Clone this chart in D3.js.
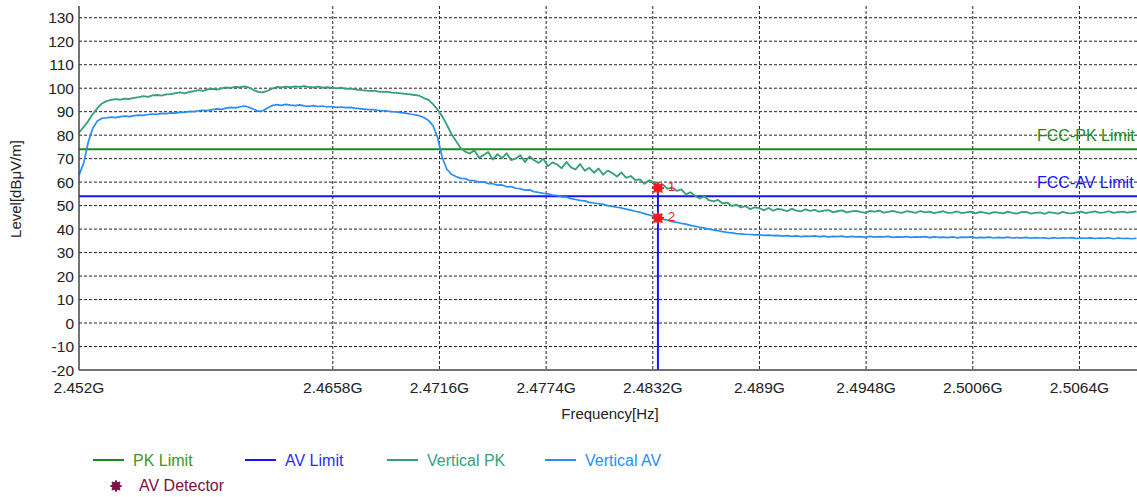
<!DOCTYPE html>
<html>
<head>
<meta charset="utf-8">
<script src="https://cdn.jsdelivr.net/npm/d3@7"></script>
<style>
  body { margin: 0; background: #fff; }
  text { font-family: "Liberation Sans", Arial, sans-serif; }
</style>
</head>
<body>
<svg></svg>
<script>
const PK_LIMIT_COLOR = '#1b8a1b';
const AV_LIMIT_COLOR = '#1414ff';
const PK_COLOR = '#35a072';
const AV_COLOR = '#2a8cf5';
const MARK_COLOR = '#ee1c1c';
const DET_COLOR = '#7d1044';

// axis ticks (GHz)
const xTicks = [2.452, 2.4658, 2.4716, 2.4774, 2.4832, 2.489, 2.4948, 2.5006, 2.5064];
const xTickLabels = ['2.452G', '2.4658G', '2.4716G', '2.4774G', '2.4832G', '2.489G', '2.4948G', '2.5006G', '2.5064G'];
const yTicks = [-20, -10, 0, 10, 20, 30, 40, 50, 60, 70, 80, 90, 100, 110, 120, 130];

// limits (dBuV/m)
const limits = [
  { name: 'FCC-PK Limit', value: 74, color: PK_LIMIT_COLOR },
  { name: 'FCC-AV Limit', value: 54, color: AV_LIMIT_COLOR }
];

// sweep: start 2.452 GHz, one sample every 0.25 MHz
const sweepStart = 2.452;
const sweepStep = 0.00025;

// Vertical PK trace
const vertPK = [
  81, 83.5, 86, 89, 91.5, 93.5, 94.5, 95, 95.3, 95.1, 95.6, 95.4, 95.9, 96.2, 96.6, 96.3, 96.9, 97.1, 96.8, 97.4,
  97.5, 97.9, 98.2, 97.8, 98.4, 98.7, 99.2, 98.9, 99.5, 99.7, 99.4, 99.9, 100.3, 100.1, 100.6, 100.4, 100.8, 100.2, 99.2, 98.4,
  98.2, 98.9, 99.8, 100.5, 100.3, 100.7, 100.4, 100.8, 100.6, 100.9, 100.5, 100.3, 100.7, 100.2, 100.4, 100.1, 99.9, 100.2, 99.7, 99.8,
  99.5, 99.3, 99.1, 98.9, 99, 98.6, 98.4, 98.5, 98.1, 98.0, 97.8, 97.6, 97.4, 97.1, 96.8, 95.8, 95.0, 93.2, 90.8, 88.0,
  84.5, 80.5, 77.5, 74.5, 73.0, 72.2, 73.6, 70.4, 71.5, 72.8, 69.6, 71.9, 70.2, 72.3, 69.4, 70.1, 71.4, 68.6, 70.9, 69.3,
  68.2, 69.9, 66.8, 68.4, 67.5, 65.9, 68.6, 66.3, 65.4, 67.7, 64.8, 66.1, 64.0, 65.8, 63.2, 64.9, 63.9, 62.4, 64.1, 61.8,
  62.6, 60.9, 61.2, 59.3, 60.8, 59.9, 58.2, 58.9, 57.1, 57.8, 56.3, 56.9, 54.8, 55.7, 54.1, 53.0, 54.0, 52.3, 51.8, 52.4,
  50.9, 51.3, 49.8, 50.4, 49.2, 49.8, 48.5, 49.3, 48.9, 48.0, 49.0, 47.8, 48.6, 48.3, 47.6, 48.7, 47.9, 47.5, 48.4, 47.8,
  48.2, 47.4, 47.9, 48.1, 47.2, 47.6, 48.0, 47.1, 47.5, 47.8, 47.3, 46.9, 47.7, 47.4, 47.9, 47.0, 47.3, 47.8, 47.2, 46.9,
  47.6, 47.3, 46.9, 47.7, 47.1, 47.4, 46.8, 47.2, 47.6, 46.9, 47.0, 47.5, 46.8, 47.1, 47.4, 46.7, 47.3, 47.0, 46.6, 47.2,
  47.0, 46.7, 47.4, 46.9, 46.6, 47.2, 47.3, 46.6, 46.9, 47.1, 46.5, 47.2, 46.9, 46.6, 47.3, 46.8, 46.7, 47.1, 47.4, 46.8,
  47.2, 47.5, 46.9, 47.1, 47.6, 46.9, 47.2, 47.4, 47.0, 47.3, 47.5
];

// Vertical AV trace
const vertAV = [
  63, 68, 77, 83, 86, 87.2, 87.4, 87.7, 87.5, 87.9, 88.1, 87.9, 88.3, 88.5, 88.4, 88.8, 89.0, 88.9, 89.3, 89.2,
  89.5, 89.4, 89.8, 89.7, 90.1, 90.0, 90.4, 90.6, 90.5, 90.9, 91.2, 91.0, 91.5, 91.8, 91.6, 92.1, 92.4, 91.9, 91.0, 90.2,
  90.4, 91.6, 92.6, 93.0, 92.7, 93.1, 92.8, 92.6, 92.9, 92.5, 92.3, 92.6, 92.2, 92.4, 92.0, 92.2, 91.8, 92.0, 91.7, 91.8,
  91.5, 91.3, 91.1, 90.9, 90.9, 90.6, 90.4, 90.3, 90.0, 89.9, 89.6, 89.4, 89.0, 88.7, 88.3, 87.5, 86.3, 84.0, 79.0, 70.5,
  65.5, 63.4, 62.4, 61.6, 61.5, 60.7, 60.6, 60.0, 60.1, 59.4, 59.3, 58.7, 58.8, 58.0, 58.1, 57.4, 57.2, 56.6, 56.7, 55.9,
  55.6, 55.2, 55.0, 54.5, 54.3, 53.7, 53.6, 53.0, 52.6, 52.2, 52.0, 51.4, 51.1, 50.8, 50.5, 50.0, 49.7, 49.3, 49.0, 48.5,
  48.1, 47.6, 47.2, 46.6, 46.0, 45.5, 44.7, 44.2, 43.8, 43.2, 42.9, 42.4, 42.1, 41.6, 41.2, 40.8, 40.4, 40.0, 39.6, 39.3,
  38.9, 38.6, 38.4, 38.1, 38.0, 37.8, 37.7, 37.5, 37.6, 37.3, 37.4, 37.2, 37.3, 37.0, 37.2, 36.9, 37.1, 36.8, 37.0, 36.9,
  37.1, 36.8, 37.0, 36.7, 36.9, 36.8, 37.0, 36.6, 36.9, 36.7, 36.8, 36.5, 36.9, 36.6, 36.8, 36.7, 36.9, 36.5, 36.7, 36.6,
  36.8, 36.5, 36.7, 36.6, 36.8, 36.4, 36.7, 36.5, 36.6, 36.4, 36.7, 36.3, 36.6, 36.5, 36.7, 36.3, 36.5, 36.4, 36.6, 36.2,
  36.5, 36.3, 36.6, 36.2, 36.4, 36.3, 36.5, 36.1, 36.4, 36.2, 36.3, 36.0, 36.4, 36.1, 36.3, 36.2, 36.4, 36.0, 36.2, 36.1,
  36.3, 36.0, 36.2, 36.1, 36.3, 35.9, 36.2, 36.0, 36.1, 35.9, 36.1
];

// markers
const markers = [
  { id: '1', freq: 2.48348, level: 57.5 },
  { id: '2', freq: 2.48348, level: 44.7 }
];

const legendItems = [
  { name: 'PK Limit', color: PK_LIMIT_COLOR, text: '#3f9324' },
  { name: 'AV Limit', color: AV_LIMIT_COLOR, text: '#2a2aff' },
  { name: 'Vertical PK', color: PK_COLOR, text: '#3aa07a' },
  { name: 'Vertical AV', color: AV_COLOR, text: '#2d8cff' }
];

const svgWidth = 1137;
const svgHeight = 497;
const plotLeft = 79, plotRight = 1137, plotTop = 6, plotBottom = 370;

const svg = d3.select("svg")
  .attr("width", svgWidth)
  .attr("height", svgHeight);

const x = d3.scaleLinear()
  .domain([2.452, 2.50953])
  .range([plotLeft, plotRight]);

const y = d3.scaleLinear()
  .domain([-20, 135])
  .range([plotBottom, plotTop]);

// spiky burst used for the marker points
const burst = {
  draw(context, size) {
    const r = Math.sqrt(size) / 2, r2 = r * 0.62, n = 8;
    for (let i = 0; i < n * 2; i++) {
      const a = Math.PI * i / n;
      const rr = i % 2 ? r2 : r;
      if (i === 0) context.moveTo(rr * Math.sin(a), -rr * Math.cos(a));
      else context.lineTo(rr * Math.sin(a), -rr * Math.cos(a));
    }
    context.closePath();
  }
};

// grid
svg.selectAll(".hgrid")
  .data(yTicks.filter(d => d > -20))
  .enter().append("line")
  .attr("class", "hgrid")
  .attr("x1", plotLeft).attr("x2", plotRight)
  .attr("y1", d => y(d)).attr("y2", d => y(d))
  .attr("stroke", "#222")
  .attr("stroke-width", 1)
  .attr("stroke-dasharray", "3,2");

svg.selectAll(".vgrid")
  .data(xTicks.slice(1))
  .enter().append("line")
  .attr("class", "vgrid")
  .attr("x1", d => x(d)).attr("x2", d => x(d))
  .attr("y1", plotTop).attr("y2", plotBottom)
  .attr("stroke", "#222")
  .attr("stroke-width", 1)
  .attr("stroke-dasharray", "3,2");

// y tick labels
svg.selectAll(".ylabel")
  .data(yTicks)
  .enter().append("text")
  .attr("class", "ylabel")
  .attr("x", plotLeft - 5)
  .attr("y", d => y(d) + 5.5)
  .attr("text-anchor", "end")
  .attr("font-size", 15.5)
  .attr("fill", "#222")
  .text(d => d);

// x tick labels
svg.selectAll(".xlabel")
  .data(xTicks)
  .enter().append("text")
  .attr("class", "xlabel")
  .attr("x", d => x(d))
  .attr("y", 393)
  .attr("text-anchor", "middle")
  .attr("font-size", 15.5)
  .attr("fill", "#222")
  .text((d, i) => xTickLabels[i]);

// axis titles
svg.append("text")
  .attr("x", 610).attr("y", 419)
  .attr("text-anchor", "middle")
  .attr("font-size", 15)
  .attr("fill", "#222")
  .text("Frequency[Hz]");

svg.append("text")
  .attr("transform", "translate(21,189) rotate(-90)")
  .attr("text-anchor", "middle")
  .attr("font-size", 15)
  .attr("fill", "#222")
  .text("Level[dBμV/m]");

// limit lines + labels
svg.selectAll(".limit")
  .data(limits)
  .enter().append("line")
  .attr("class", "limit")
  .attr("x1", plotLeft).attr("x2", plotRight)
  .attr("y1", d => y(d.value)).attr("y2", d => y(d.value))
  .attr("stroke", d => d.color)
  .attr("stroke-width", 2);

svg.selectAll(".limit-label")
  .data(limits)
  .enter().append("text")
  .attr("class", "limit-label")
  .attr("x", 1037)
  .attr("y", d => y(d.value) - 8)
  .attr("font-size", 16)
  .attr("fill", d => d.color)
  .text(d => d.name);

// traces
const line = d3.line()
  .x((d, i) => x(sweepStart + i * sweepStep))
  .y(d => y(d));

svg.append("path")
  .datum(vertPK)
  .attr("fill", "none")
  .attr("stroke", PK_COLOR)
  .attr("stroke-width", 1.8)
  .attr("stroke-linejoin", "round")
  .attr("d", line);

svg.append("path")
  .datum(vertAV)
  .attr("fill", "none")
  .attr("stroke", AV_COLOR)
  .attr("stroke-width", 1.7)
  .attr("stroke-linejoin", "round")
  .attr("d", line);

// marker line down from marker 1
svg.append("line")
  .attr("x1", x(markers[0].freq)).attr("x2", x(markers[0].freq))
  .attr("y1", y(markers[0].level)).attr("y2", y(-20))
  .attr("stroke", AV_LIMIT_COLOR)
  .attr("stroke-width", 2);

svg.selectAll(".marker")
  .data(markers)
  .enter().append("path")
  .attr("class", "marker")
  .attr("transform", d => `translate(${x(d.freq)},${y(d.level)})`)
  .attr("d", d3.symbol().type(burst).size(150))
  .attr("fill", MARK_COLOR)
  .attr("stroke", MARK_COLOR)
  .attr("stroke-width", 1);

svg.selectAll(".marker-label")
  .data(markers)
  .enter().append("text")
  .attr("class", "marker-label")
  .attr("x", d => x(d.freq) + 10)
  .attr("y", d => y(d.level) + 3)
  .attr("font-size", 13)
  .attr("fill", MARK_COLOR)
  .text(d => d.id);

// axes
svg.append("line")
  .attr("x1", plotLeft).attr("x2", plotLeft)
  .attr("y1", plotTop).attr("y2", plotBottom)
  .attr("stroke", "#444").attr("stroke-width", 1.5);
svg.append("line")
  .attr("x1", plotLeft).attr("x2", plotRight)
  .attr("y1", plotBottom).attr("y2", plotBottom)
  .attr("stroke", "#444").attr("stroke-width", 1.5);

// legend
const legendX = [93, 245, 387, 545];
const legend = svg.selectAll(".legend")
  .data(legendItems)
  .enter().append("g")
  .attr("class", "legend")
  .attr("transform", (d, i) => `translate(${legendX[i]},460)`);

legend.append("line")
  .attr("x1", 0).attr("x2", 31)
  .attr("stroke", d => d.color)
  .attr("stroke-width", 2);

legend.append("text")
  .attr("x", 40).attr("y", 6)
  .attr("font-size", 16)
  .attr("fill", d => d.text)
  .text(d => d.name);

svg.append("path")
  .attr("transform", "translate(116,486)")
  .attr("d", d3.symbol().type(burst).size(130))
  .attr("fill", DET_COLOR)
  .attr("stroke", DET_COLOR)
  .attr("stroke-width", 1);

svg.append("text")
  .attr("x", 139).attr("y", 491)
  .attr("font-size", 16)
  .attr("fill", DET_COLOR)
  .text("AV Detector");
</script>
</body>
</html>
